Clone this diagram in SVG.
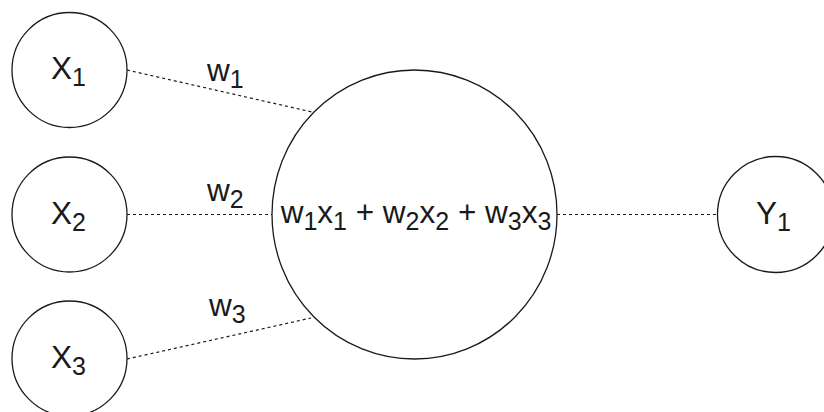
<svg xmlns="http://www.w3.org/2000/svg" width="824" height="412" viewBox="0 0 824 412">
<style>
.n{fill:#fff;stroke:#1a1a1a;stroke-width:1.3}
.e{fill:none;stroke:#1a1a1a;stroke-width:1.2;stroke-dasharray:3 3}
text{font-family:"Liberation Sans",Arial,sans-serif;font-size:31.5px;fill:#1a1a1a}
.s{font-size:25px}
</style>
<rect width="824" height="412" fill="#fff"/>
<g id="connectors">
<line class="e" x1="127" y1="70" x2="312" y2="112"/>
<line class="e" x1="127" y1="214.5" x2="272" y2="214.5"/>
<line class="e" x1="127" y1="359" x2="311" y2="318"/>
<line class="e" x1="557" y1="214.5" x2="717" y2="214.5"/>
<text x="207" y="81">w<tspan class="s" dy="7">1</tspan></text>
<text x="207" y="201">w<tspan class="s" dy="7">2</tspan></text>
<text x="209" y="316">w<tspan class="s" dy="7">3</tspan></text>
</g>
<g id="x1"><circle class="n" cx="69.5" cy="70" r="57.5"/><text x="51" y="79">X<tspan class="s" dy="7">1</tspan></text></g>
<g id="x2"><circle class="n" cx="69.5" cy="214.5" r="57.5"/><text x="51" y="223.5">X<tspan class="s" dy="7">2</tspan></text></g>
<g id="x3"><circle class="n" cx="69.5" cy="358.5" r="57.5"/><text x="51" y="367.5">X<tspan class="s" dy="7">3</tspan></text></g>
<g id="sum"><ellipse class="n" cx="414.5" cy="214.5" rx="142.5" ry="144.5"/><text x="416" y="223" text-anchor="middle">w<tspan class="s" dy="7">1</tspan><tspan dy="-7">x</tspan><tspan class="s" dy="7">1</tspan><tspan dy="-7"> + w</tspan><tspan class="s" dy="7">2</tspan><tspan dy="-7">x</tspan><tspan class="s" dy="7">2</tspan><tspan dy="-7"> + w</tspan><tspan class="s" dy="7">3</tspan><tspan dy="-7">x</tspan><tspan class="s" dy="7">3</tspan></text></g>
<g id="y1"><circle class="n" cx="775.5" cy="214.5" r="58"/><text x="756" y="223.5">Y<tspan class="s" dy="7">1</tspan></text></g>
</svg>
